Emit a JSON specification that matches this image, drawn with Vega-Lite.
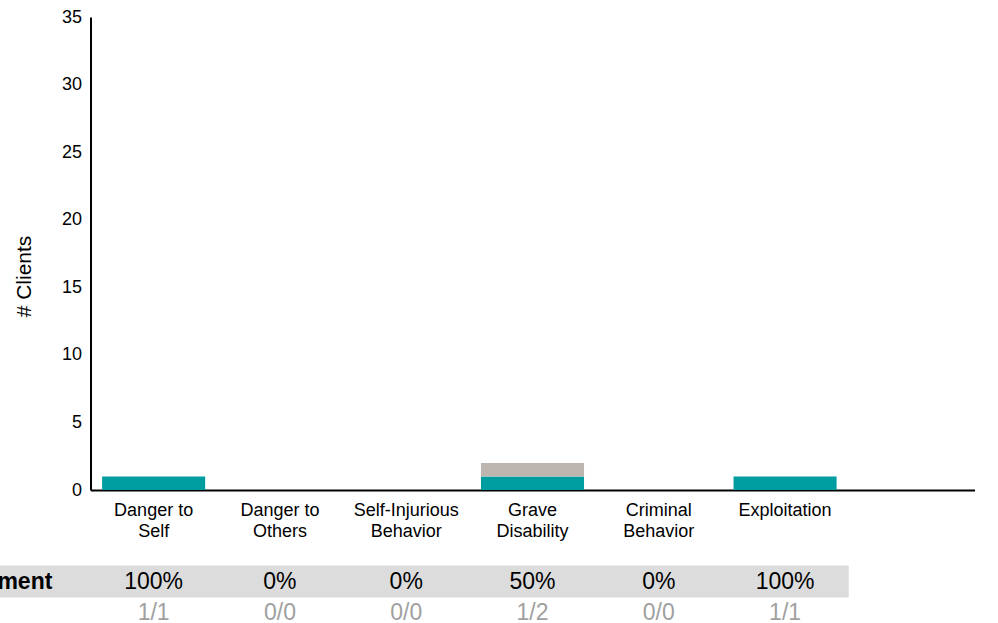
{
  "$schema": "https://vega.github.io/schema/vega-lite/v6.json",
  "autosize": {"type": "pad"},
  "padding": {"left": -119, "top": 8, "right": 0, "bottom": 0},
  "background": "white",
  "config": {"font": "Liberation Sans", "view": {"stroke": null}},
  "datasets": {
    "counts": [
      {"category": "Danger to Self", "status": "Improved", "clients": 1},
      {"category": "Grave Disability", "status": "Improved", "clients": 1},
      {"category": "Grave Disability", "status": "Not Improved", "clients": 1},
      {"category": "Exploitation", "status": "Improved", "clients": 1}
    ],
    "table": [
      {"category": "% Improvement", "row": "pct", "kind": "label", "value": "% Improvement"},
      {"category": "Danger to Self", "row": "pct", "kind": "cell", "value": "100%"},
      {"category": "Danger to Others", "row": "pct", "kind": "cell", "value": "0%"},
      {"category": "Self-Injurious Behavior", "row": "pct", "kind": "cell", "value": "0%"},
      {"category": "Grave Disability", "row": "pct", "kind": "cell", "value": "50%"},
      {"category": "Criminal Behavior", "row": "pct", "kind": "cell", "value": "0%"},
      {"category": "Exploitation", "row": "pct", "kind": "cell", "value": "100%"},
      {"category": "Danger to Self", "row": "frac", "kind": "cell", "value": "1/1"},
      {"category": "Danger to Others", "row": "frac", "kind": "cell", "value": "0/0"},
      {"category": "Self-Injurious Behavior", "row": "frac", "kind": "cell", "value": "0/0"},
      {"category": "Grave Disability", "row": "frac", "kind": "cell", "value": "1/2"},
      {"category": "Criminal Behavior", "row": "frac", "kind": "cell", "value": "0/0"},
      {"category": "Exploitation", "row": "frac", "kind": "cell", "value": "1/1"}
    ]
  },
  "bounds": "flush",
  "center": true,
  "spacing": 76,
  "resolve": {"scale": {"x": "independent", "y": "independent"}},
  "vconcat": [
    {
      "width": 884,
      "height": 473,
      "data": {"name": "counts"},
      "mark": {"type": "bar"},
      "encoding": {
        "x": {
          "field": "category",
          "type": "nominal",
          "scale": {
            "domain": ["Danger to Self", "Danger to Others", "Self-Injurious Behavior", "Grave Disability", "Criminal Behavior", "Exploitation", " "],
            "paddingInner": 0.184,
            "paddingOuter": 0.092
          },
          "axis": {
            "title": null,
            "labelAngle": 0,
            "ticks": false,
            "domainColor": "black",
            "domainWidth": 2,
            "labelFontSize": 18,
            "labelColor": "black",
            "labelLineHeight": 21,
            "labelPadding": 11,
            "labelBaseline": "top",
            "labelExpr": "lastindexof(datum.label, ' ') > 0 ? [substring(datum.label, 0, lastindexof(datum.label, ' ')), substring(datum.label, lastindexof(datum.label, ' ') + 1)] : datum.label"
          }
        },
        "y": {
          "field": "clients",
          "type": "quantitative",
          "stack": "zero",
          "scale": {"domain": [0, 35], "nice": false},
          "axis": {
            "title": "# Clients",
            "values": [0, 5, 10, 15, 20, 25, 30, 35],
            "grid": false,
            "ticks": false,
            "domainColor": "black",
            "domainWidth": 2,
            "labelFontSize": 18,
            "labelColor": "black",
            "labelPadding": 9,
            "titleFontSize": 21,
            "titleFontWeight": "normal",
            "titleColor": "black",
            "titleX": -56,
            "titleY": 259
          }
        },
        "color": {
          "field": "status",
          "type": "nominal",
          "scale": {"domain": ["Improved", "Not Improved"], "range": ["#009DA0", "#BDB5AF"]},
          "legend": null
        },
        "order": {"field": "status", "sort": "ascending"}
      }
    },
    {
      "width": 1136.57,
      "height": 62,
      "data": {"name": "table"},
      "encoding": {
        "x": {
          "field": "category",
          "type": "nominal",
          "scale": {
            "domain": ["% Improvement", "Danger to Self", "Danger to Others", "Self-Injurious Behavior", "Grave Disability", "Criminal Behavior", "Exploitation", " ", "  "],
            "paddingInner": 0,
            "paddingOuter": 0
          },
          "axis": null
        },
        "y": {
          "field": "row",
          "type": "nominal",
          "scale": {"domain": ["pct", "frac"], "paddingInner": 0, "paddingOuter": 0},
          "axis": null
        }
      },
      "layer": [
        {
          "transform": [{"filter": "datum.row === 'pct'"}],
          "mark": {"type": "rect", "color": "#DCDCDC", "stroke": "#DCDCDC", "strokeWidth": 1}
        },
        {
          "transform": [{"filter": "datum.kind === 'label'"}],
          "mark": {"type": "text", "fontSize": 23, "fontWeight": "bold", "color": "black", "align": "right", "dx": 25},
          "encoding": {"text": {"field": "value"}}
        },
        {
          "transform": [{"filter": "datum.row === 'pct' && datum.kind === 'cell'"}],
          "mark": {"type": "text", "fontSize": 23, "color": "black"},
          "encoding": {"text": {"field": "value"}}
        },
        {
          "transform": [{"filter": "datum.row === 'frac'"}],
          "mark": {"type": "text", "fontSize": 23, "color": "#A0A0A0"},
          "encoding": {"text": {"field": "value"}}
        }
      ]
    }
  ]
}
